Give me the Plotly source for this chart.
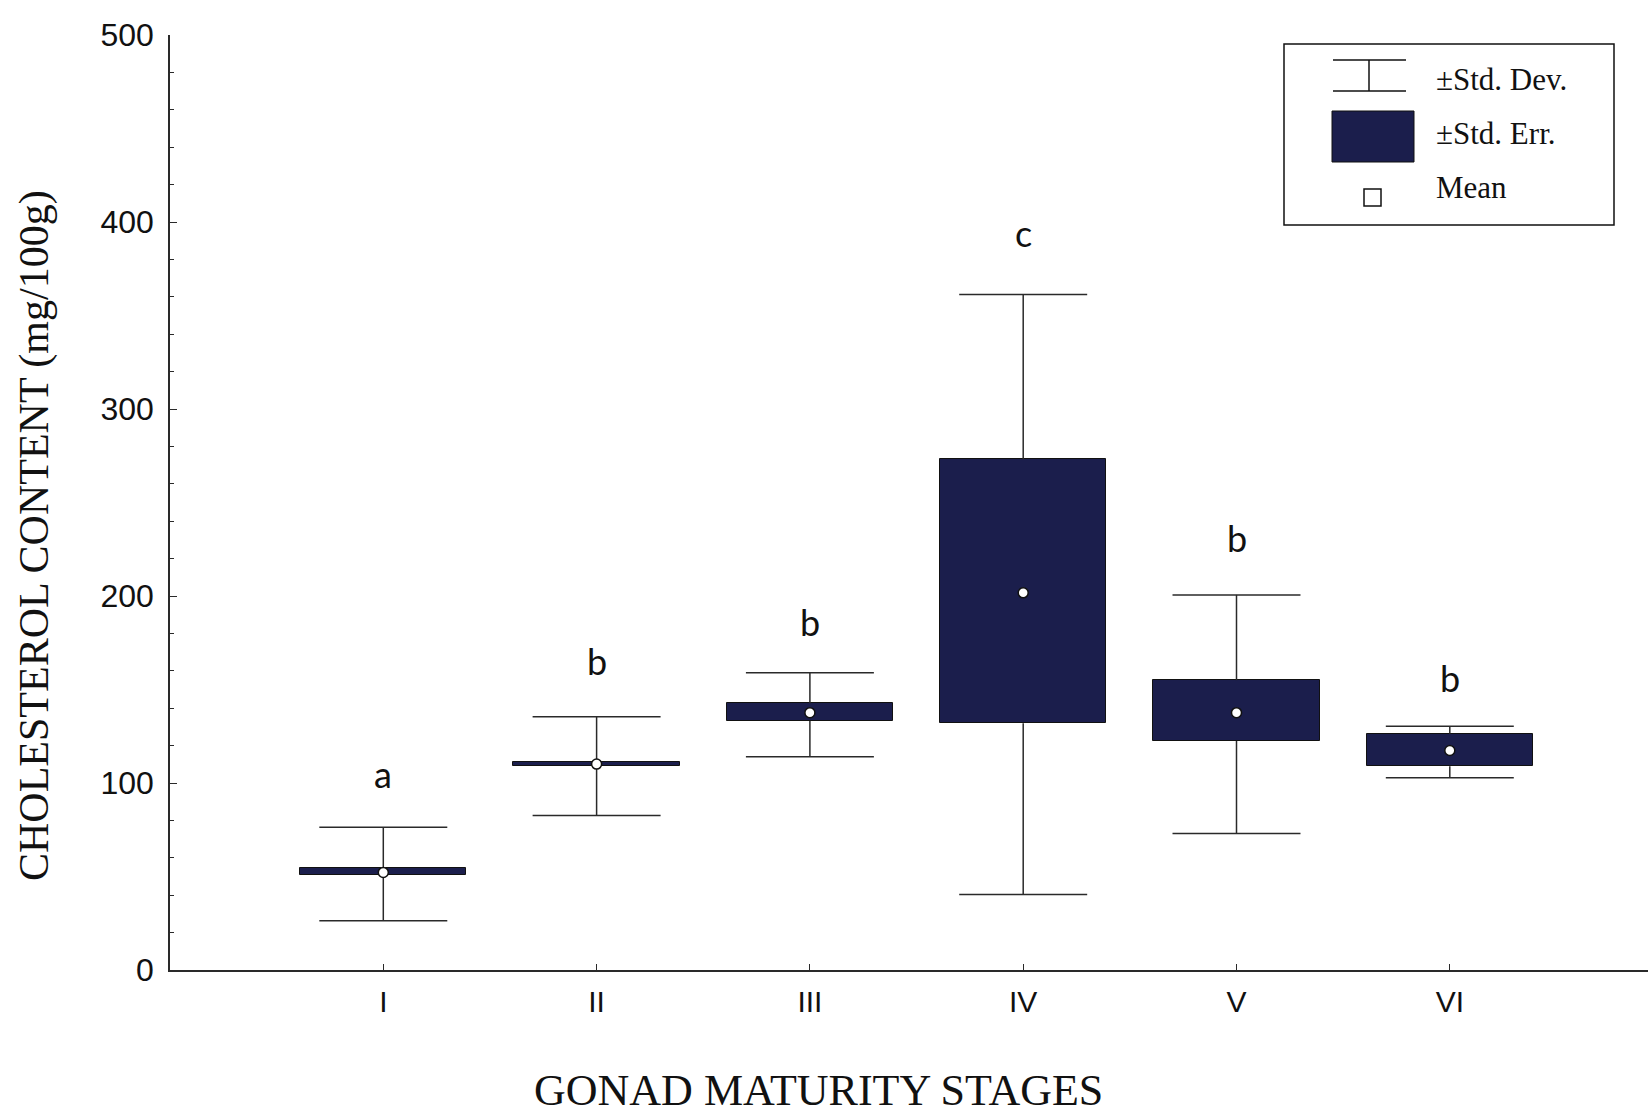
import plotly.graph_objects as go

stages = ["I", "II", "III", "IV", "V", "VI"]
mean_vals = [52.2, 110.1, 137.6, 201.7, 137.6, 117.4]
se_low = [50.6, 109.0, 133.1, 132.0, 122.5, 109.0]
se_high = [54.5, 111.2, 142.7, 273.0, 155.0, 126.4]
sd_low = [26.4, 82.6, 114.0, 40.4, 73.0, 102.8]
sd_high = [76.4, 135.4, 159.0, 361.2, 200.6, 130.3]
letters = ["a", "b", "b", "c", "b", "b"]
letter_y = [105, 165, 186, 394, 231, 156]
y_ticks = [0, 100, 200, 300, 400, 500]

NAVY = "#1b1e4c"
LINE = "#2a2a2a"
BOX_W = 0.78
CAP_HALF = 0.30

W, H = 1648, 1119
ML, MR, MT, MB = 170, 0, 35, 149
PW, PH = W - ML - MR, H - MT - MB


def px(xpage):
    return (xpage - ML) / PW


def py(ypage):
    return 1 - (ypage - MT) / PH


xs = list(range(len(stages)))

fig = go.Figure()

wx, wy = [], []
cx, cy = [], []
for i, x in enumerate(xs):
    wx += [x, x, None, x, x, None]
    wy += [sd_low[i], se_low[i], None, se_high[i], sd_high[i], None]
    cx += [x - CAP_HALF, x + CAP_HALF, None, x - CAP_HALF, x + CAP_HALF, None]
    cy += [sd_low[i], sd_low[i], None, sd_high[i], sd_high[i], None]

fig.add_trace(go.Scatter(x=wx, y=wy, mode="lines", line=dict(color=LINE, width=1.5),
                         hoverinfo="skip", showlegend=False))
fig.add_trace(go.Scatter(x=cx, y=cy, mode="lines", line=dict(color=LINE, width=1.5),
                         hoverinfo="skip", showlegend=False))

fig.add_trace(go.Bar(x=xs, base=se_low, y=[h - l for h, l in zip(se_high, se_low)],
                     width=BOX_W, marker=dict(color=NAVY, line=dict(color="#111", width=1)),
                     showlegend=False))

fig.add_trace(go.Scatter(x=xs, y=mean_vals, mode="markers",
                         marker=dict(symbol="circle", size=10, color="white",
                                     line=dict(color="#111", width=1.5)),
                         showlegend=False))

for i, x in enumerate(xs):
    fig.add_annotation(x=x, y=letter_y[i], text=letters[i], showarrow=False,
                       font=dict(family="Lato, Open Sans, sans-serif", size=36, color="#111"))

# manual legend
fig.add_shape(type="rect", xref="paper", yref="paper", x0=px(1284), x1=px(1614),
              y0=py(225), y1=py(44), line=dict(color="#111", width=1.5),
              fillcolor="white", layer="above")
for yy in (60, 91):
    fig.add_shape(type="line", xref="paper", yref="paper", x0=px(1333), x1=px(1406),
                  y0=py(yy), y1=py(yy), line=dict(color="#111", width=1.5))
fig.add_shape(type="line", xref="paper", yref="paper", x0=px(1369), x1=px(1369),
              y0=py(91), y1=py(60), line=dict(color="#111", width=1.5))
fig.add_shape(type="rect", xref="paper", yref="paper", x0=px(1332), x1=px(1414),
              y0=py(162), y1=py(111), line=dict(color="#111", width=1), fillcolor=NAVY)
fig.add_shape(type="rect", xref="paper", yref="paper", x0=px(1364), x1=px(1381),
              y0=py(206), y1=py(189), line=dict(color="#111", width=1.5), fillcolor="white")
legend_font = dict(family="Liberation Serif, Times New Roman, serif", size=31, color="#111")
for txt, yy in [("±Std. Dev.", 79), ("±Std. Err.", 133), ("Mean", 188)]:
    fig.add_annotation(xref="paper", yref="paper", x=px(1434), y=py(yy), text=txt,
                       showarrow=False, xanchor="left", yanchor="middle", font=legend_font)

title_font = dict(family="Liberation Serif, Times New Roman, serif", color="#111")
fig.add_annotation(xref="paper", yref="paper", x=px(818), y=py(1090),
                   text="GONAD MATURITY STAGES", showarrow=False,
                   xanchor="center", yanchor="middle", font=dict(size=44, **title_font))
fig.add_annotation(xref="paper", yref="paper", x=px(34), y=py(536),
                   text="CHOLESTEROL CONTENT (mg/100g)", showarrow=False, textangle=-90,
                   xanchor="center", yanchor="middle", font=dict(size=42, **title_font))

fig.update_layout(
    width=W, height=H,
    margin=dict(l=ML, r=MR, t=MT, b=MB, pad=0),
    paper_bgcolor="white", plot_bgcolor="white",
    bargap=0,
    xaxis=dict(range=[-1, -1 + PW / 213.3], tickmode="array", tickvals=xs, ticktext=stages,
               showline=True, linecolor=LINE, linewidth=1.5, ticks="inside", ticklen=6,
               tickcolor=LINE, showgrid=False, zeroline=False,
               tickfont=dict(family="Liberation Sans, Arial, sans-serif", size=30, color="#111"),
               ticklabelstandoff=4),
    yaxis=dict(range=[0, 500], tickvals=y_ticks, showline=True, linecolor=LINE, linewidth=1.5,
               ticks="inside", ticklen=7, tickcolor=LINE, showgrid=False, zeroline=False,
               minor=dict(dtick=20, ticks="inside", ticklen=4, tickcolor=LINE),
               tickfont=dict(family="Liberation Sans, Arial, sans-serif", size=32, color="#111"),
               ticklabelstandoff=8),
)

fig.write_html("out.html", config={"displayModeBar": False},
               post_script="document.body.style.margin='0';document.body.style.overflow='hidden';")
